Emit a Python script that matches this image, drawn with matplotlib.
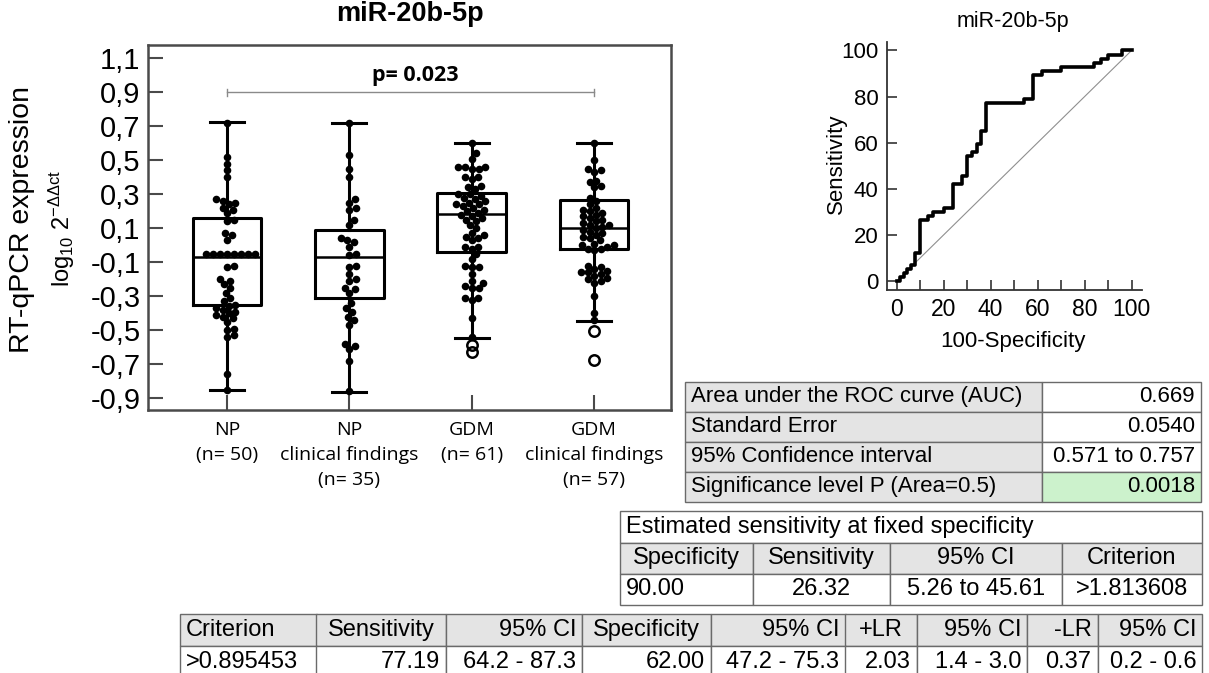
import matplotlib
matplotlib.use("Agg")
import matplotlib.pyplot as plt
from matplotlib.table import Table
import numpy as np

plt.rcParams['font.family'] = ['Liberation Sans', 'DejaVu Sans']
plt.rcParams['mathtext.fontset'] = 'custom'
plt.rcParams['mathtext.rm'] = 'Liberation Sans'
plt.rcParams['mathtext.it'] = 'Liberation Sans:italic'

# ---------------- data ----------------
groups = ["NP\n(n= 50)", "NP\nclinical findings\n(n= 35)", "GDM\n(n= 61)", "GDM\nclinical findings\n(n= 57)"]

np_vals = [0.72, 0.52, 0.48, 0.44, 0.40,
           0.27, 0.26, 0.25, 0.24, 0.22, 0.21, 0.19, 0.15, 0.14,
           0.07, 0.06, 0.03,
           -0.05, -0.05, -0.05, -0.05, -0.05, -0.05, -0.05, -0.05,
           -0.12, -0.13,
           -0.20, -0.21, -0.23, -0.25, -0.28, -0.31,
           -0.33, -0.35, -0.36, -0.37, -0.38, -0.39, -0.40, -0.41, -0.42, -0.43, -0.45,
           -0.49, -0.50, -0.53, -0.54,
           -0.76, -0.85]
np_cf_vals = [0.72, 0.53, 0.45, 0.40, 0.27, 0.25, 0.22, 0.21, 0.15, 0.12,
              0.04, 0.03, 0.02, -0.01, -0.05, -0.06, -0.12, -0.13, -0.17, -0.20,
              -0.21, -0.25, -0.26, -0.28, -0.34, -0.37, -0.39, -0.42, -0.44, -0.47,
              -0.58, -0.59, -0.61, -0.68, -0.86]
gdm_vals = [0.60, 0.54, 0.51, 0.46, 0.46, 0.46, 0.45, 0.45, 0.40, 0.40, 0.39,
            0.35, 0.34, 0.33, 0.30, 0.30, 0.29, 0.28, 0.27, 0.26, 0.25, 0.24, 0.24,
            0.23, 0.22, 0.21, 0.20, 0.19, 0.18, 0.17, 0.16, 0.15, 0.14, 0.12, 0.10,
            0.07, 0.06, 0.05, 0.04, 0.03, -0.01, -0.01, -0.02, -0.05,
            -0.08, -0.12, -0.13, -0.13, -0.17, -0.21, -0.22, -0.24, -0.25, -0.25,
            -0.31, -0.31, -0.32, -0.43, -0.54]
gdm_cf_vals = [0.60, 0.50, 0.45, 0.44, 0.43, 0.38, 0.37, 0.35, 0.34, 0.28, 0.26,
               0.24, 0.22, 0.21, 0.20, 0.19, 0.18, 0.17, 0.16, 0.15, 0.14, 0.13, 0.12,
               0.12, 0.11, 0.10, 0.09, 0.08, 0.07, 0.06, 0.05, 0.04, 0.03, 0.01, 0.00,
               0.00, -0.01, -0.02, -0.02, -0.03, -0.12, -0.13, -0.14, -0.15, -0.16,
               -0.16, -0.17, -0.18, -0.19, -0.20, -0.21, -0.22, -0.30, -0.40, -0.44]
swarm_data = [np_vals, np_cf_vals, gdm_vals, gdm_cf_vals]

box_med = [-0.067, -0.071, 0.184, 0.100]
box_q1 = [-0.351, -0.308, -0.037, -0.024]
box_q3 = [0.159, 0.090, 0.310, 0.267]
box_whislo = [-0.851, -0.861, -0.547, -0.443]
box_whishi = [0.724, 0.722, 0.600, 0.604]
box_fliers = [[], [], [-0.585, -0.625], [-0.504, -0.675]]

p_label = "p= 0.023"
p_groups = [1, 4]

roc_fpr = [0, 1.5, 3, 4.5, 6, 8, 10, 13.5, 15.5, 20, 24, 28, 30, 32, 34, 36, 38,
           54, 58, 62, 70, 84, 87, 90, 96, 100]
roc_tpr = [0, 1.8, 3.5, 5.3, 7.0, 12.3, 26.3, 28.1, 29.8, 31.6, 42.1, 45.6, 54.4,
           56.1, 59.6, 64.9, 77.2, 78.9, 89.5, 91.2, 93.0, 94.7, 96.5, 98.2, 100, 100]

auc_rows = [["Area under the ROC curve (AUC)", "0.669"],
            ["Standard Error", "0.0540"],
            ["95% Confidence interval", "0.571 to 0.757"],
            ["Significance level P (Area=0.5)", "0.0018"]]
fixed_title = "Estimated sensitivity at fixed specificity"
fixed_rows = [["Specificity", "Sensitivity", "95% CI", "Criterion"],
              ["90.00", "26.32", "5.26 to 45.61", ">1.813608"]]
crit_rows = [["Criterion", "Sensitivity", "95% CI", "Specificity", "95% CI", "+LR", "95% CI", "-LR", "95% CI"],
             [">0.895453", "77.19", "64.2 - 87.3", "62.00", "47.2 - 75.3", "2.03", "1.4 - 3.0", "0.37", "0.2 - 0.6"]]

# ---------------- figure ----------------
W, H = 1209, 673
fig = plt.figure(figsize=(W / 100, H / 100), dpi=100)


def px_rect(l, t, r, b):
    return [l / W, 1 - b / H, (r - l) / W, (b - t) / H]


def swarm(vals, d=6.6, px_y=170.0, px_x=122.3):
    # simple beeswarm: place each point at the nearest free horizontal slot
    order = np.argsort(vals)
    placed = []
    offs = np.zeros(len(vals))
    for i in order:
        y = vals[i] * px_y
        near = [(px, py) for px, py in placed if abs(py - y) < d]
        k = 0
        while True:
            cands = [0.0] if k == 0 else [k * 0.5, -k * 0.5]
            found = None
            for x in cands:
                if all((x - px) ** 2 + (y - py) ** 2 >= d * d for px, py in near):
                    found = x
                    break
            if found is not None:
                break
            k += 1
        placed.append((found, y))
        offs[i] = found / px_x
    return offs


# ---- box plot ----
ax = fig.add_axes(px_rect(147.5, 45, 670.5, 410))
positions = np.arange(1, len(groups) + 1)
stats = []
for i in range(len(groups)):
    stats.append(dict(med=box_med[i], q1=box_q1[i], q3=box_q3[i],
                      whislo=box_whislo[i], whishi=box_whishi[i], fliers=box_fliers[i]))
line = dict(color='black', linewidth=2.2)
ax.bxp(stats, positions=positions, widths=0.56, capwidths=0.28, patch_artist=False,
       boxprops=line, whiskerprops=line, capprops=line,
       medianprops=dict(color='black', linewidth=1.8),
       flierprops=dict(marker='o', markerfacecolor='none', markeredgecolor='black',
                       markersize=7.5, markeredgewidth=1.8), zorder=2)

for i, vals in enumerate(swarm_data):
    vals = np.array(vals)
    ax.scatter(positions[i] + swarm(vals), vals, s=30, color='black', linewidths=0, zorder=4)

ax.set_xlim(0.35, 4.625)
ax.set_ylim(-0.969, 1.178)
yt = np.round(np.arange(-0.9, 1.11, 0.2), 1)
ax.set_yticks(yt)
ax.set_yticklabels([f"{v:.1f}".replace('.', ',') for v in yt], fontsize=21)
ax.set_xticks(positions)
ax.set_xticklabels(groups, fontsize=14, fontfamily='Open Sans', linespacing=1.5)
ax.tick_params(axis='y', direction='in', length=11, width=1.5, color='#4a4a4a', pad=5)
ax.tick_params(axis='x', direction='in', length=11, width=1.5, color='#4a4a4a', pad=8)
for sp in ax.spines.values():
    sp.set_color('#4a4a4a')
    sp.set_linewidth(1.8)

# significance bracket
ax.plot(p_groups, [0.9, 0.9], color='#8a8a8a', lw=1)
for g in p_groups:
    ax.plot([g, g], [0.878, 0.922], color='#8a8a8a', lw=1)
ax.text(2.54, 1.0, p_label, fontsize=15.5, fontweight='bold', fontfamily='Open Sans',
        ha='center', va='center')

fig.text(410 / W, 1 - 14 / H, "miR-20b-5p", fontsize=19.5, fontweight='bold', ha='center', va='center')
fig.text(22 / W, 1 - 220 / H, "RT-qPCR expression", fontsize=20.5, rotation=90, ha='center', va='center')
fig.text(62 / W, 1 - 228 / H, r"log$_{10}$ 2$^{\mathrm{-\Delta\Delta ct}}$", fontsize=17,
         rotation=90, ha='center', va='center')

# ---- ROC curve ----
rax = fig.add_axes(px_rect(887, 41.7, 1141.7, 290))
rax.plot([0, 100], [0, 100], color='#8f8f8f', lw=0.8)
rax.plot(roc_fpr, roc_tpr, drawstyle='steps-post', color='black', lw=2.6)
rax.set_xlim(-4.1, 104.3)
rax.set_ylim(-3.9, 103.8)
rax.set_xticks(np.arange(0, 101, 20))
rax.set_xticks(np.arange(10, 100, 20), minor=True)
rax.set_yticks(np.arange(0, 101, 20))
rax.tick_params(which='both', direction='in', length=7, width=1.2, color='#333333')
rax.tick_params(axis='x', labelsize=16.5, pad=6)
rax.tick_params(axis='y', labelsize=16, pad=6)
for s in ['top', 'right']:
    rax.spines[s].set_visible(False)
for s in ['left', 'bottom']:
    rax.spines[s].set_color('#333333')
    rax.spines[s].set_linewidth(1.3)
fig.text(1013 / W, 1 - 21 / H, "miR-20b-5p", fontsize=15.5, ha='center', va='center')
fig.text(836 / W, 1 - 164 / H, "Sensitivity", fontsize=16, rotation=90, ha='center', va='center')
fig.text(1013 / W, 1 - 342 / H, "100-Specificity", fontsize=16, ha='center', va='center')

# ---- tables ----
tax = fig.add_axes([0, 0, 1, 1])
tax.axis('off')
tax.set_zorder(-1)
GRAY = '#e4e4e4'
GREEN = '#ccf2cc'


def make_table(cells, col_edges, top, bottom, aligns, colours, fs):
    widths = np.diff(col_edges)
    tbl = Table(tax, bbox=[col_edges[0] / W, 1 - bottom / H,
                           (col_edges[-1] - col_edges[0]) / W, (bottom - top) / H])
    for r, row in enumerate(cells):
        for c, txt in enumerate(row):
            cell = tbl.add_cell(r, c, widths[c], 1, text=txt, loc=aligns[r][c],
                                facecolor=colours[r][c], edgecolor='#6a6a6a')
            cell.PAD = 6 / widths[c]
            cell.set_linewidth(1.0)
    tbl.auto_set_font_size(False)
    tbl.set_fontsize(fs)
    tax.add_table(tbl)
    return tbl


make_table(auc_rows, [685, 1042, 1201], 381.5, 501.5,
           [['left', 'right']] * 4,
           [[GRAY, 'white']] * 3 + [[GRAY, GREEN]], 16)
make_table([[fixed_title]], [620, 1202], 511, 542.5, [['left']], [['white']], 17)
make_table(fixed_rows, [620, 753, 890, 1062, 1202], 542.5, 604.7,
           [['center'] * 4, ['left', 'center', 'center', 'center']],
           [[GRAY] * 4, ['white'] * 4], 17)
make_table(crit_rows, [180, 316.5, 445.6, 582.2, 711.3, 845.5, 916.9, 1027.3, 1097.6, 1202.3],
           613.8, 678,
           [['left', 'center', 'right', 'center', 'right', 'center', 'right', 'right', 'right'],
            ['left'] + ['right'] * 8],
           [[GRAY] * 9, ['white'] * 9], 17)

fig.savefig("out.png", dpi=100, facecolor='white')
